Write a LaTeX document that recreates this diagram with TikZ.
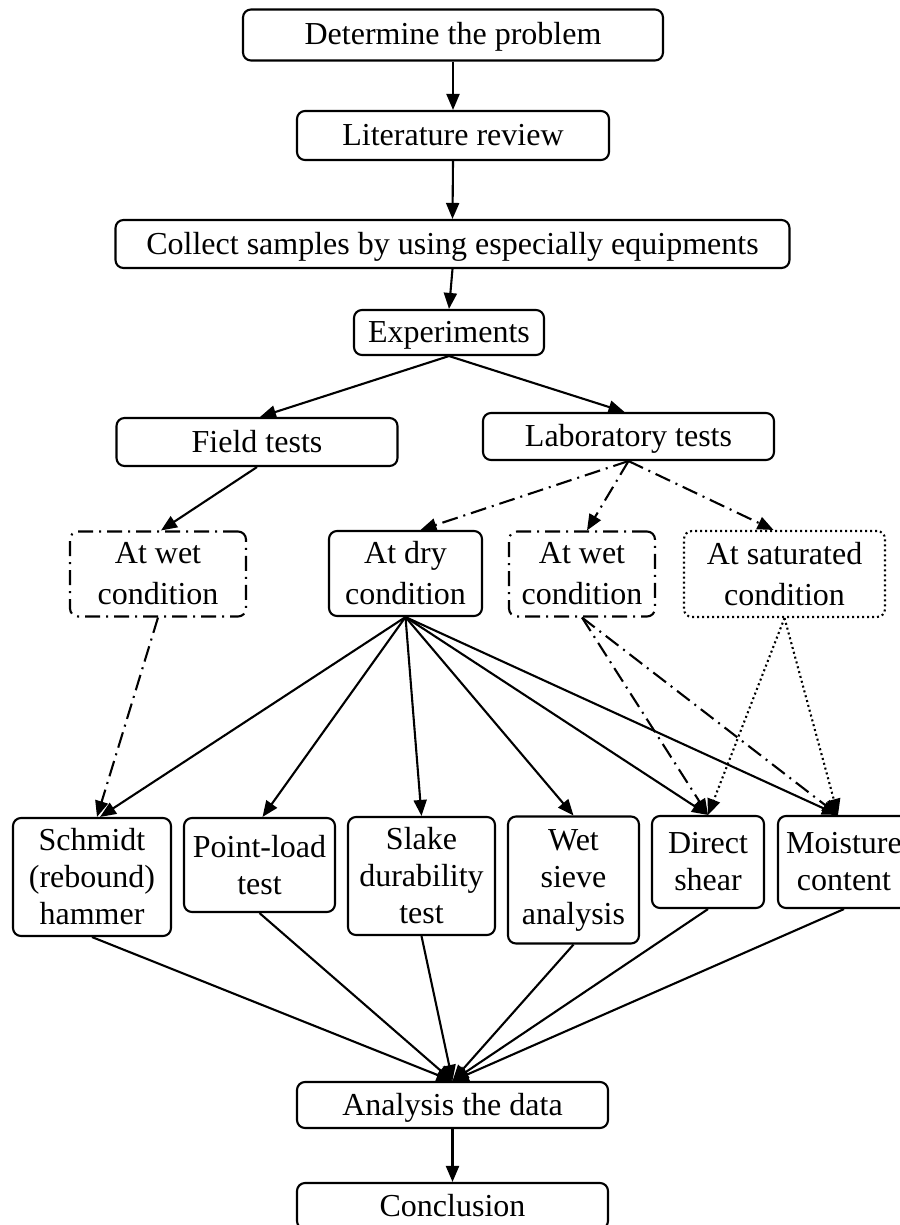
\documentclass[tikz,border=0pt]{standalone}
\usepackage{fontspec}
\setmainfont{Liberation Serif}
\usetikzlibrary{arrows.meta,calc}
\begin{document}
\begin{tikzpicture}[x=1pt,y=-1pt,
  box/.style={draw, line width=2.1pt, rounded corners=8pt, inner sep=0pt, align=center,
    font=\fontsize{32}{37}\selectfont},
  one/.style={box, text height=26pt, text depth=6pt},
  ddbox/.style={box, dash pattern=on 15pt off 6pt on 2pt off 6pt},
  dtbox/.style={box, dash pattern=on 2pt off 3pt},
  arr/.style={line width=2.1pt, -{Triangle[length=16pt,width=13pt]}},
  dd/.style={arr, dash pattern=on 16pt off 6pt on 2pt off 6pt},
  dt/.style={arr, dash pattern=on 2pt off 3pt}]
\useasboundingbox (0,0) rectangle (899,1225);
\node[one, minimum width=420pt, minimum height=51pt] (det) at (453,35) {Determine the problem};
\node[one, minimum width=312pt, minimum height=49pt] (lit) at (453,135.5) {Literature review};
\node[one, minimum width=674pt, minimum height=48pt] (col) at (452.5,244) {Collect samples by using especially equipments};
\node[one, minimum width=190pt, minimum height=45pt] (exp) at (449,332.5) {Experiments};
\node[one, minimum width=281pt, minimum height=48pt] (field) at (257,442) {Field tests};
\node[one, minimum width=291pt, minimum height=47pt] (lab) at (628.5,436.5) {Laboratory tests};
\node[ddbox, minimum width=176pt, minimum height=85pt] (wetL) at (158,574) {At wet\\[4pt]condition};
\node[box, minimum width=153pt, minimum height=85pt] (dry) at (405.5,573.5) {At dry\\[4pt]condition};
\node[ddbox, minimum width=146pt, minimum height=85pt] (wetM) at (582,574) {At wet\\[4pt]condition};
\node[dtbox, minimum width=201pt, minimum height=86pt] (sat) at (784.5,574) {At saturated\\[4pt]condition};
\node[box, minimum width=158pt, minimum height=118pt] (sch) at (92,877) {Schmidt\\(rebound)\\hammer};
\node[box, minimum width=151pt, minimum height=94pt] (pl) at (259.5,865) {Point-load\\test};
\node[box, minimum width=147pt, minimum height=118pt] (sl) at (421.5,876) {Slake\\durability\\test};
\node[box, minimum width=131pt, minimum height=127pt] (ws) at (573.5,880) {Wet\\sieve\\analysis};
\node[box, minimum width=112pt, minimum height=92pt] (ds) at (708,862) {Direct\\shear};
\node[box, minimum width=132pt, minimum height=92pt] (mc) at (844,862) {Moisture\\content};
\node[one, minimum width=311pt, minimum height=46pt] (ana) at (452.5,1105) {Analysis the data};
\node[one, minimum width=311pt, minimum height=46pt] (con) at (452.5,1206) {Conclusion};

\draw[arr] (det.south) -- (lit.north);
\draw[arr] (lit.south) -- (col.north);
\draw[arr] (col.south) -- (exp.north);
\draw[arr] (exp.south) -- ([xshift=3pt]field.north);
\draw[arr] (exp.south) -- ([xshift=-4pt]lab.north);
\draw[arr] (field.south) -- ([xshift=3pt]wetL.north);
\draw[dd] (lab.south) -- ([xshift=15pt]dry.north);
\draw[dd] (lab.south) -- ([xshift=5pt]wetM.north);
\draw[dd] (lab.south) -- ([xshift=-11pt]sat.north);
\draw[dd] (wetL.south) -- ([xshift=5pt]sch.north);
\draw[arr] (dry.south) -- ([xshift=8pt]sch.north);
\draw[arr] (dry.south) -- ([xshift=3pt]pl.north);
\draw[arr] (dry.south) -- (sl.north);
\draw[arr] (dry.south) -- (ws.north);
\draw[arr] (dry.south) -- (ds.north);
\draw[arr] (dry.south) -- ([xshift=-6pt]mc.north);
\draw[dd] (wetM.south) -- (ds.north);
\draw[dd] (wetM.south) -- ([xshift=-6pt]mc.north);
\draw[dt] (sat.south) -- (ds.north);
\draw[dt] (sat.south) -- ([xshift=-6pt]mc.north);
\draw[arr] (sch.south) -- (ana.north);
\draw[arr] (pl.south) -- (ana.north);
\draw[arr] (sl.south) -- (ana.north);
\draw[arr] (ws.south) -- (ana.north);
\draw[arr] (ds.south) -- (ana.north);
\draw[arr] (mc.south) -- (ana.north);
\draw[arr] (ana.south) -- (con.north);
\end{tikzpicture}
\end{document}
